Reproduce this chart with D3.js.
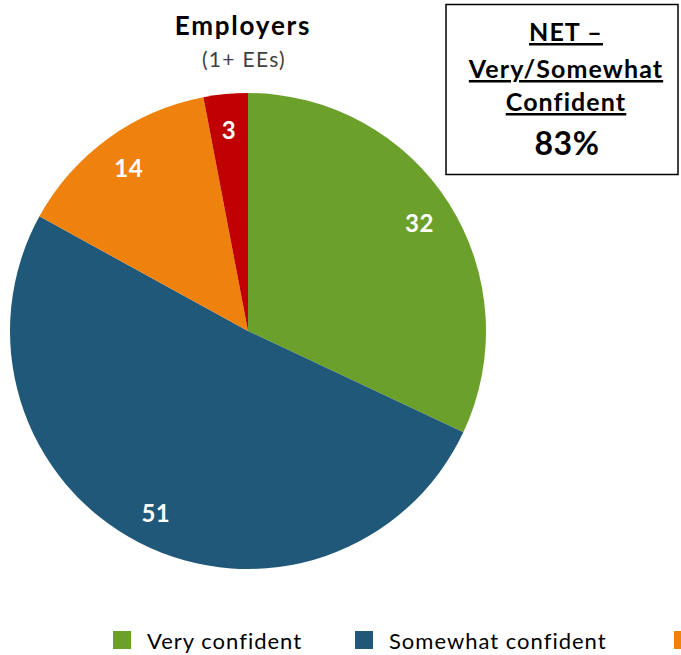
<!DOCTYPE html>
<html><head><meta charset="utf-8">
<script src="https://cdn.jsdelivr.net/npm/d3@7"></script>
<style>html,body{margin:0;padding:0;background:#fff;overflow:hidden}</style>
</head><body>
<svg id="c" width="681" height="655"></svg>
<script>
const categories = ["Very confident", "Somewhat confident", "Not too confident", "Not at all confident"];
const values = [32, 51, 14, 3];
const colors = ["#6BA12A", "#1F5878", "#EF820D", "#C00000"];
const title = "Employers";
const subtitle = "(1+ EEs)";
const netLines = ["NET –", "Very/Somewhat", "Confident"];
const netValue = "83%";

const W = 681;
const font = "Lato, 'Open Sans', sans-serif";
const svg = d3.select("#c");
const cx = 248, cy = 331, R = 238;

const pie = d3.pie().sort(null).value(d => d)(values);
const arc = d3.arc().innerRadius(0).outerRadius(R);
const labelArc = d3.arc().innerRadius(203).outerRadius(203);
const g = svg.append("g").attr("transform", `translate(${cx},${cy})`);
g.selectAll("path").data(pie).join("path")
  .attr("d", arc).attr("fill", (d, i) => colors[i]);
g.selectAll("text").data(pie).join("text")
  .attr("transform", d => `translate(${labelArc.centroid(d)})`)
  .attr("text-anchor", "middle").attr("dy", "0.42em")
  .attr("fill", "#fff").attr("font-family", font).attr("font-weight", "bold")
  .attr("font-size", 24).attr("letter-spacing", 0.5).text(d => d.data);

svg.append("text").attr("x", 243).attr("y", 35).attr("text-anchor", "middle")
  .attr("font-family", font).attr("font-weight", "bold").attr("font-size", 26)
  .attr("letter-spacing", 1.8).text(title);
svg.append("text").attr("x", 244).attr("y", 67).attr("text-anchor", "middle")
  .attr("font-family", font).attr("fill", "#404040").attr("font-size", 21)
  .attr("letter-spacing", 1.3).text(subtitle);

// NET box
svg.append("rect").attr("x", 446).attr("y", 4.5).attr("width", 232).attr("height", 170)
  .attr("fill", "#fff").attr("stroke", "#000").attr("stroke-width", 1.5);
const ny = [41, 78, 111];
netLines.forEach((t, i) => {
  svg.append("text").attr("x", 566).attr("y", ny[i]).attr("text-anchor", "middle")
    .attr("font-family", font).attr("font-weight", "bold").attr("font-size", 25)
    .attr("letter-spacing", 1.1)
    .attr("text-decoration", "underline").text(t);
});
svg.append("text").attr("x", 567).attr("y", 155).attr("text-anchor", "middle")
  .attr("font-family", font).attr("font-weight", "bold").attr("font-size", 32)
  .attr("letter-spacing", 0.5).text(netValue);

// Legend (continues past the right edge, as in the reference)
const legX = [113, 355, 674, 900];
const lg = svg.append("g");
categories.forEach((c, i) => {
  lg.append("rect").attr("x", legX[i]).attr("y", 631).attr("width", 18).attr("height", 18).attr("fill", colors[i]);
  if (legX[i] + 34 < W) {
    lg.append("text").attr("x", legX[i] + 34).attr("y", 649).attr("font-family", font)
      .attr("font-size", 22).attr("letter-spacing", 1).text(c);
  }
});
</script>
</body></html>
